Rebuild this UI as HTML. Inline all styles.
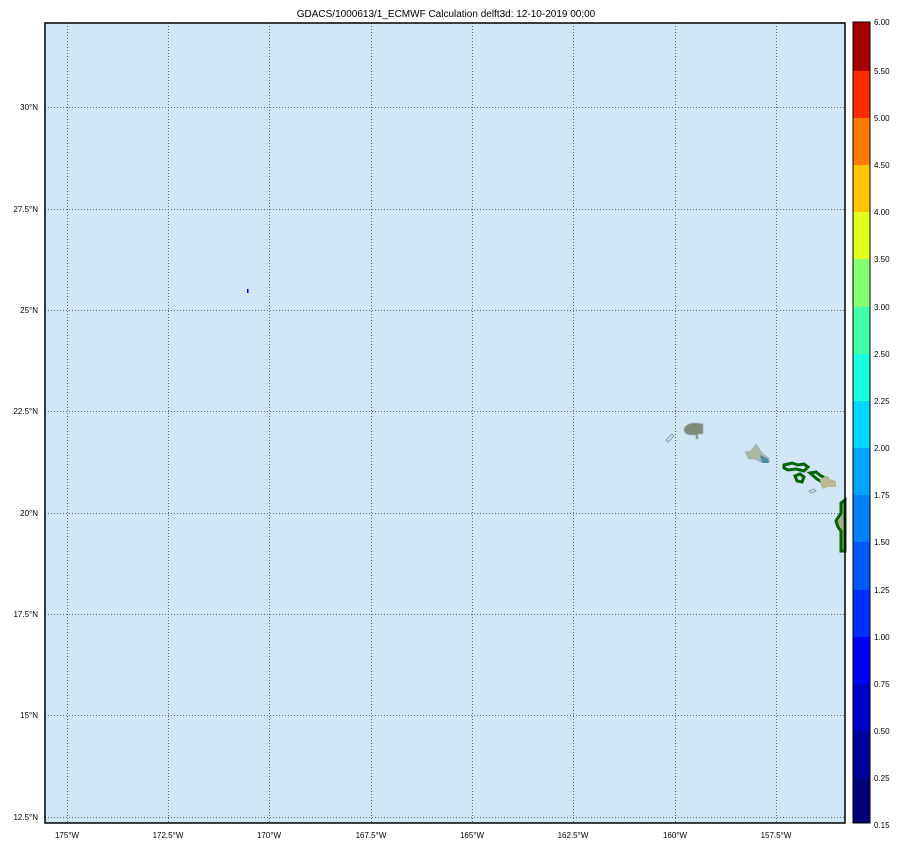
<!DOCTYPE html>
<html><head><meta charset="utf-8"><style>
body{margin:0;background:#fff;}
svg text{font-family:"Liberation Sans",sans-serif;fill:#000;}
</style></head><body>
<svg width="902" height="849" xmlns="http://www.w3.org/2000/svg">
<text x="446" y="17" font-size="10" text-anchor="middle">GDACS/1000613/1_ECMWF Calculation delft3d: 12-10-2019 00:00</text>
<rect x="45" y="23" width="800" height="800" fill="#d0e6f5"/>
<g stroke="#667" stroke-width="1" stroke-dasharray="1,2">
<line x1="67.5" y1="23" x2="67.5" y2="823"/><line x1="168.5" y1="23" x2="168.5" y2="823"/>
<line x1="269.5" y1="23" x2="269.5" y2="823"/><line x1="371.5" y1="23" x2="371.5" y2="823"/>
<line x1="472.5" y1="23" x2="472.5" y2="823"/><line x1="573.5" y1="23" x2="573.5" y2="823"/>
<line x1="675.5" y1="23" x2="675.5" y2="823"/><line x1="776.5" y1="23" x2="776.5" y2="823"/>
<line x1="45" y1="107.5" x2="845" y2="107.5"/><line x1="45" y1="209.5" x2="845" y2="209.5"/>
<line x1="45" y1="310.5" x2="845" y2="310.5"/><line x1="45" y1="411.5" x2="845" y2="411.5"/>
<line x1="45" y1="513.5" x2="845" y2="513.5"/><line x1="45" y1="614.5" x2="845" y2="614.5"/>
<line x1="45" y1="715.5" x2="845" y2="715.5"/><line x1="45" y1="817.5" x2="845" y2="817.5"/>
</g>
<rect x="247" y="289" width="1.5" height="4" fill="#00f"/>
<path d="M666 440 l6-6 2 2-6 6z" fill="none" stroke="#889" stroke-width="0.8"/>
<path d="M684 429 q2-6 12-6 l7 1 0 10 -5 0 0 5 -2 0 0-4 -6 0 q-6-1-6-6z" fill="#7d8a78" stroke="#aab" stroke-width="0.8"/>
<path d="M745 452 l6-1 5-7 4 6 4 5 5 3 0 4 -8 0 -6-3 -6 0z" fill="#a9b9a6" stroke="#aab" stroke-width="0.8"/>
<path d="M760 455 l8 4 1 4 -7 0z" fill="#4d8aa0"/>
<path d="M784 465 l8-2 6 2 6-1 4 3 -4 4 -8-2 -8 1 -4-2z" fill="none" stroke="#006400" stroke-width="3"/>
<path d="M795 476 l5-2 4 3 -2 5 -5-1z" fill="none" stroke="#006400" stroke-width="3"/>
<path d="M810 473 l6-1 5 4 5 2 -4 4 -5-3z" fill="none" stroke="#006400" stroke-width="3"/>
<path d="M820 480 l5-4 5 3 6 2 0 6 -8 0 -6 2z" fill="#bcb896"/>
<path d="M809 491 l5-2 2 2 -5 2z" fill="none" stroke="#889" stroke-width="0.8"/>
<path d="M845 500 l-4 3 0 10 -5 8 2 6 3 4 0 20 4 0z" fill="#a7ad8c" stroke="#006400" stroke-width="3"/>
<rect x="45" y="23" width="800" height="800" fill="none" stroke="#000" stroke-width="1.5"/>
<g font-size="8" text-anchor="end">
<text x="38" y="110">30°N</text><text x="38" y="212">27.5°N</text><text x="38" y="313">25°N</text>
<text x="38" y="414">22.5°N</text><text x="38" y="516">20°N</text><text x="38" y="617">17.5°N</text>
<text x="38" y="718">15°N</text><text x="38" y="820">12.5°N</text>
</g>
<g font-size="8" text-anchor="middle">
<text x="67" y="838">175°W</text><text x="168" y="838">172.5°W</text><text x="269" y="838">170°W</text>
<text x="371" y="838">167.5°W</text><text x="472" y="838">165°W</text><text x="573" y="838">162.5°W</text>
<text x="675" y="838">160°W</text><text x="776" y="838">157.5°W</text>
</g>
<g>
<rect x="853" y="22" width="17" height="49" fill="#a80000"/>
<rect x="853" y="71" width="17" height="47" fill="#ff2a00"/>
<rect x="853" y="118" width="17" height="47" fill="#ff7a00"/>
<rect x="853" y="165" width="17" height="47" fill="#ffc400"/>
<rect x="853" y="212" width="17" height="47" fill="#e0ff1a"/>
<rect x="853" y="259" width="17" height="48" fill="#86ff70"/>
<rect x="853" y="307" width="17" height="47" fill="#40ffa8"/>
<rect x="853" y="354" width="17" height="47" fill="#1affe0"/>
<rect x="853" y="401" width="17" height="47" fill="#00d8ff"/>
<rect x="853" y="448" width="17" height="47" fill="#00a4ff"/>
<rect x="853" y="495" width="17" height="47" fill="#0080ff"/>
<rect x="853" y="542" width="17" height="48" fill="#0058ff"/>
<rect x="853" y="590" width="17" height="47" fill="#0030ff"/>
<rect x="853" y="637" width="17" height="47" fill="#0000ff"/>
<rect x="853" y="684" width="17" height="47" fill="#0000c8"/>
<rect x="853" y="731" width="17" height="47" fill="#00009a"/>
<rect x="853" y="778" width="17" height="45" fill="#000078"/>
<rect x="853" y="22" width="17" height="801" fill="none" stroke="#000" stroke-width="1"/>
</g>
<g font-size="8">
<text x="874" y="25">6.00</text><text x="874" y="74">5.50</text><text x="874" y="121">5.00</text>
<text x="874" y="168">4.50</text><text x="874" y="215">4.00</text><text x="874" y="262">3.50</text>
<text x="874" y="310">3.00</text><text x="874" y="357">2.50</text><text x="874" y="404">2.25</text>
<text x="874" y="451">2.00</text><text x="874" y="498">1.75</text><text x="874" y="545">1.50</text>
<text x="874" y="593">1.25</text><text x="874" y="640">1.00</text><text x="874" y="687">0.75</text>
<text x="874" y="734">0.50</text><text x="874" y="781">0.25</text><text x="874" y="828">0.15</text>
</g>
</svg>
</body></html>
